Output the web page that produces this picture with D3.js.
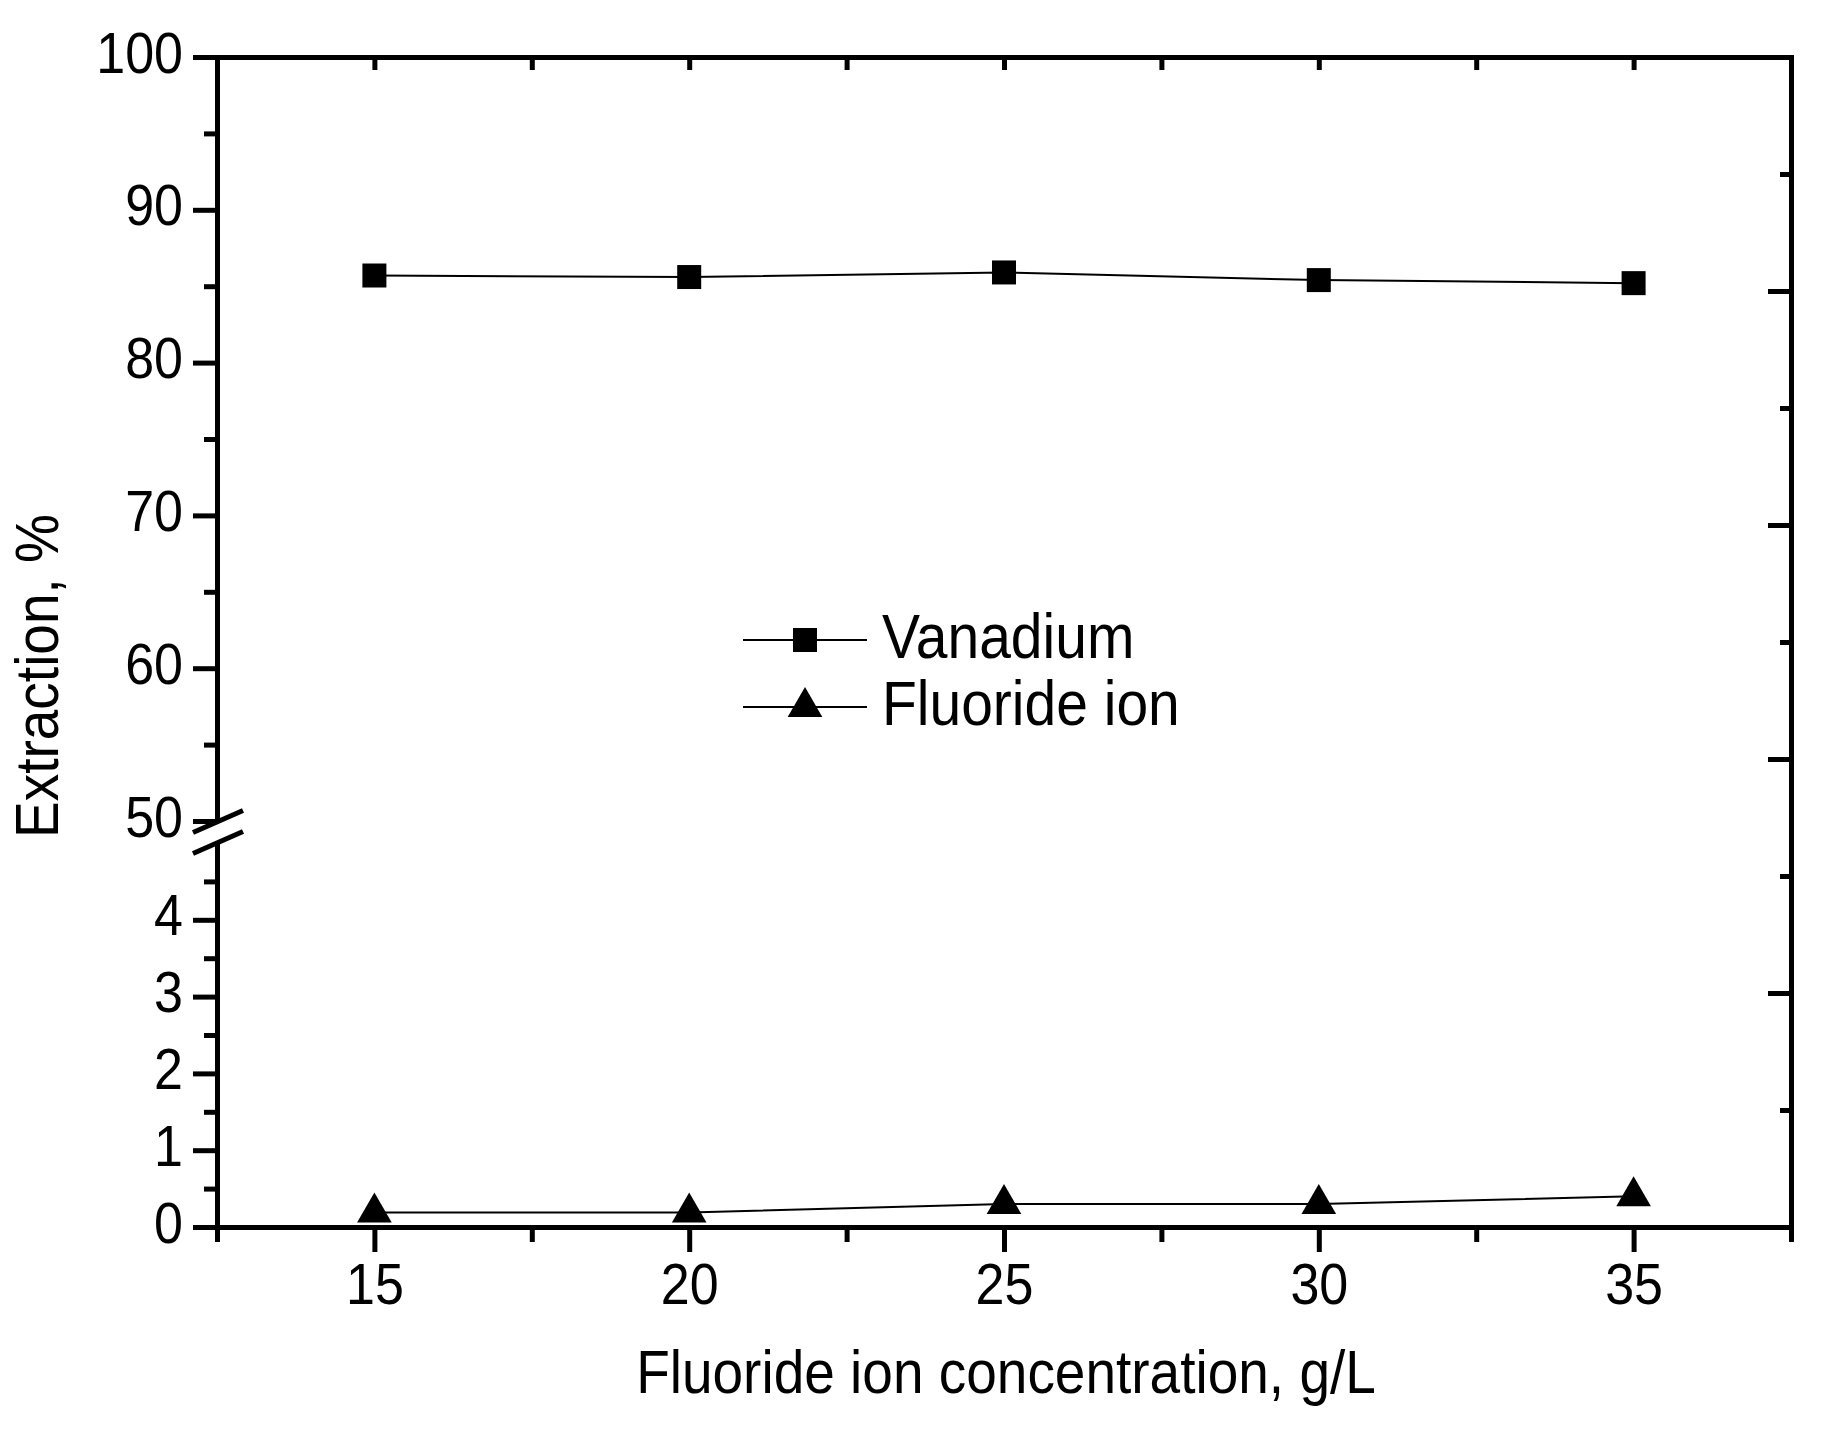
<!DOCTYPE html>
<html>
<head>
<meta charset="utf-8">
<script src="https://cdn.jsdelivr.net/npm/d3@7"></script>
<style>
  body { margin: 0; background: #fff; }
  text { font-family: "Liberation Sans", Arial, sans-serif; fill: #000; }
</style>
</head>
<body>
<div id="chart"></div>
<script>
// Data
let concentration = [15, 20, 25, 30, 35];
let vanadium = [85.7, 85.6, 85.9, 85.4, 85.2];
let fluoride = [0.19, 0.19, 0.30, 0.30, 0.40];
let seriesNames = ["Vanadium", "Fluoride ion"];
let xTicks = [15, 20, 25, 30, 35];
let xMinorTicks = [12.5, 17.5, 22.5, 27.5, 32.5, 37.5];
let upperTicks = [50, 60, 70, 80, 90, 100];
let upperMinorTicks = [55, 65, 75, 85, 95];
let lowerTicks = [0, 1, 2, 3, 4];
let lowerMinorTicks = [0.5, 1.5, 2.5, 3.5, 4.5];

let svgWidth = 1843;
let svgHeight = 1430;

let margin = {
  top: 57,
  right: 52,
  bottom: 203,
  left: 217
};

let width = svgWidth - margin.left - margin.right;
let height = svgHeight - margin.top - margin.bottom;

// the y axis is broken: 0-5 at the bottom, 50-100 above a small gap
let lowerHeight = 384;
let gap = 22;
let stretch = 1.1;   // the original font is a bit taller than Arial
let axisWidth = 5;

let svg = d3.select("#chart")
  .append("svg")
  .attr("width", svgWidth)
  .attr("height", svgHeight);

let chartGroup = svg.append("g")
  .attr("transform", `translate(${margin.left}, ${margin.top})`);

// Scales
let xScale = d3.scaleLinear()
  .domain([12.5, 37.5])
  .range([0, width]);

let yUpper = d3.scaleLinear()
  .domain([50, 100])
  .range([height - lowerHeight - gap, 0]);

let yLower = d3.scaleLinear()
  .domain([0, 5])
  .range([height, height - lowerHeight]);

let yRight = d3.scaleLinear()
  .domain([0, 10])
  .range([height, 0]);

function styleAxis(g, labelSize) {
  g.selectAll("path, line")
    .attr("stroke", "#000")
    .attr("stroke-width", axisWidth)
    .attr("stroke-linecap", "square");
  g.selectAll("text")
    .attr("font-size", labelSize)
    .attr("font-family", "Liberation Sans, Arial, sans-serif")
    .attr("fill", "#000");
}

// Bottom axis
let bottomMajor = chartGroup.append("g")
  .attr("transform", `translate(0, ${height})`)
  .call(d3.axisBottom(xScale).tickValues(xTicks).tickSize(25).tickSizeOuter(0).tickFormat(d3.format("d")));
styleAxis(bottomMajor, 52);
bottomMajor.selectAll(".tick line").attr("stroke-linecap", "butt");
bottomMajor.selectAll("text")
  .attr("dy", null)
  .attr("y", 77 / stretch)
  .attr("transform", `scale(1, ${stretch})`);

let bottomMinor = chartGroup.append("g")
  .attr("transform", `translate(0, ${height})`)
  .call(d3.axisBottom(xScale).tickValues(xMinorTicks).tickSize(15).tickFormat(""));
bottomMinor.select(".domain").remove();
styleAxis(bottomMinor);
bottomMinor.selectAll(".tick line").attr("stroke-linecap", "butt");

// Top axis, inward ticks only
let topAxis = chartGroup.append("g")
  .call(d3.axisTop(xScale).tickValues(xTicks.concat(xMinorTicks)).tickSize(-13).tickSizeOuter(0).tickFormat(""));
styleAxis(topAxis);
topAxis.selectAll(".tick line").attr("stroke-linecap", "butt");

// Right axis, inward ticks only
let rightAxis = chartGroup.append("g")
  .attr("transform", `translate(${width}, 0)`)
  .call(d3.axisRight(yRight).tickValues([2, 4, 6, 8]).tickSize(-23).tickSizeOuter(0).tickFormat(""));
styleAxis(rightAxis);
rightAxis.selectAll(".tick line").attr("stroke-linecap", "butt");

let rightMinor = chartGroup.append("g")
  .attr("transform", `translate(${width}, 0)`)
  .call(d3.axisRight(yRight).tickValues([1, 3, 5, 7, 9]).tickSize(-11).tickFormat(""));
rightMinor.select(".domain").remove();
styleAxis(rightMinor);
rightMinor.selectAll(".tick line").attr("stroke-linecap", "butt");

// Left axis, two segments
function leftSegment(scale, major, minor) {
  let g = chartGroup.append("g")
    .call(d3.axisLeft(scale).tickValues(major).tickSize(24).tickPadding(10).tickSizeOuter(0).tickFormat(d3.format("d")));
  styleAxis(g, 52);
  g.select(".domain").attr("stroke-linecap", "butt");
  g.selectAll(".tick line").attr("stroke-linecap", "butt");
  g.selectAll("text")
    .attr("dy", null)
    .attr("y", 15 / stretch)
    .attr("transform", `scale(1, ${stretch})`);

  let m = chartGroup.append("g")
    .call(d3.axisLeft(scale).tickValues(minor).tickSize(13).tickFormat(""));
  m.select(".domain").remove();
  styleAxis(m);
  m.selectAll(".tick line").attr("stroke-linecap", "butt");
}
leftSegment(yUpper, upperTicks, upperMinorTicks);
leftSegment(yLower, lowerTicks, lowerMinorTicks);

// Break marks
let slope = -0.44;
[yUpper(50) + 1, yLower(5)].forEach(function(y0) {
  chartGroup.append("line")
    .attr("x1", -24)
    .attr("y1", y0 - slope * 24)
    .attr("x2", 26)
    .attr("y2", y0 + slope * 26)
    .attr("stroke", "#000")
    .attr("stroke-width", axisWidth);
});

// Lines and markers
let vData = concentration.map((c, i) => ({x: c, y: vanadium[i]}));
let fData = concentration.map((c, i) => ({x: c, y: fluoride[i]}));

chartGroup.append("path")
  .datum(vData)
  .attr("fill", "none")
  .attr("stroke", "#000")
  .attr("stroke-width", 2)
  .attr("d", d3.line().x(d => xScale(d.x)).y(d => yUpper(d.y)));

chartGroup.append("path")
  .datum(fData)
  .attr("fill", "none")
  .attr("stroke", "#000")
  .attr("stroke-width", 2)
  .attr("d", d3.line().x(d => xScale(d.x)).y(d => yLower(d.y)));

let square = d3.symbol(d3.symbolSquare, 576);
let triangle = d3.symbol(d3.symbolTriangle, 520);

chartGroup.selectAll(".vPoint")
  .data(vData)
  .enter()
  .append("path")
  .attr("class", "vPoint")
  .attr("transform", d => `translate(${xScale(d.x)}, ${yUpper(d.y)})`)
  .attr("d", square)
  .attr("fill", "#000");

chartGroup.selectAll(".fPoint")
  .data(fData)
  .enter()
  .append("path")
  .attr("class", "fPoint")
  .attr("transform", d => `translate(${xScale(d.x)}, ${yLower(d.y)})`)
  .attr("d", triangle)
  .attr("fill", "#000");

// Legend
let legend = svg.append("g")
  .attr("transform", "translate(743, 640)");

let symbols = [square, triangle];
seriesNames.forEach(function(name, i) {
  let row = legend.append("g")
    .attr("transform", `translate(0, ${i * 67})`);
  row.append("line")
    .attr("x1", 0)
    .attr("x2", 124)
    .attr("stroke", "#000")
    .attr("stroke-width", 2);
  row.append("path")
    .attr("transform", "translate(62, 0)")
    .attr("d", symbols[i])
    .attr("fill", "#000");
  row.append("text")
    .attr("transform", `translate(139, 18) scale(1, ${stretch})`)
    .attr("font-size", 57)
    .text(name);
});

// Axis titles
svg.append("text")
  .attr("transform", `translate(${margin.left + width / 2 + 2}, 1393) scale(1, ${stretch})`)
  .attr("text-anchor", "middle")
  .attr("font-size", 55)
  .text("Fluoride ion concentration, g/L");

svg.append("text")
  .attr("transform", `translate(58, 676) rotate(-90) scale(1, ${stretch})`)
  .attr("text-anchor", "middle")
  .attr("font-size", 55)
  .text("Extraction, %");
</script>
</body>
</html>
